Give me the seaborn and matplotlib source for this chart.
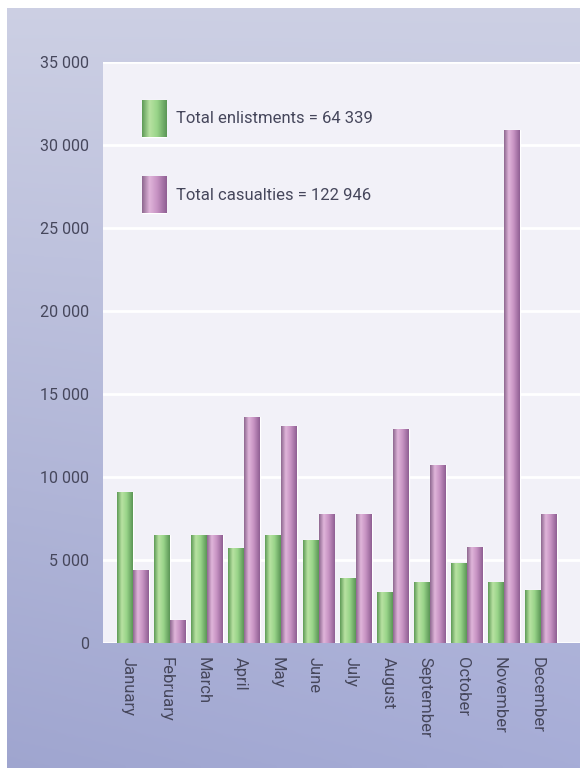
import numpy as np
import pandas as pd
import matplotlib
matplotlib.use("Agg")
import matplotlib.pyplot as plt
from matplotlib.colors import LinearSegmentedColormap, to_rgb
from matplotlib.patches import Rectangle
import seaborn as sns

# Monthly figures
months = ["January", "February", "March", "April", "May", "June",
          "July", "August", "September", "October", "November", "December"]
enlistments = [9100, 6500, 6500, 5700, 6500, 6200, 3900, 3100, 3700, 4800, 3700, 3200]
casualties = [4400, 1400, 6500, 13600, 13100, 7800, 7800, 12900, 10700, 5800, 30900, 7800]
series_labels = ["Total enlistments = 64 339", "Total casualties = 122 946"]
y_ticks = [0, 5000, 10000, 15000, 20000, 25000, 30000, 35000]

df = pd.DataFrame({
    "month": months * 2,
    "value": enlistments + casualties,
    "series": [series_labels[0]] * len(months) + [series_labels[1]] * len(months),
})

sns.set_theme(style="white")
plt.rcParams["font.family"] = ["Roboto", "DejaVu Sans"]
text_col = "#46475c"

W, H = 580, 768
fig = plt.figure(figsize=(W / 100, H / 100), dpi=100)

# Lavender page background with a soft vertical gradient
bg = fig.add_axes([0, 0, 1, 1], zorder=-10)
yy, xx = np.mgrid[0:1:200j, 0:1:200j]
top = np.array(to_rgb("#cdd0e4"))
bot = np.array(to_rgb("#a7add7"))
t = yy[..., None]
img = top * (1 - t) + bot * t
img = img - 0.03 * (1 - xx[..., None]) * t
bg.imshow(np.clip(img, 0, 1), extent=[0, 1, 0, 1], aspect="auto", origin="upper")
bg.add_patch(Rectangle((0, 1 - 8 / H), 1, 8 / H, color="white", lw=0))
bg.add_patch(Rectangle((0, 0), 7 / W, 1, color="white", lw=0))
bg.set_xlim(0, 1)
bg.set_ylim(0, 1)
bg.axis("off")

# Plot area
left_px, right_px, top_px, bottom_px = 103, 585, 62, 643
ax = fig.add_axes([left_px / W, (H - bottom_px) / H,
                   (right_px - left_px) / W, (bottom_px - top_px) / H])
ax.set_facecolor("#f2f1f8")

palette = {series_labels[0]: "#8fcb7e", series_labels[1]: "#c290c0"}
sns.barplot(data=df, x="month", y="value", hue="series", palette=palette,
            width=0.86, ax=ax, saturation=1, zorder=3)

# Cylinder-like shading across each bar
shade = {
    series_labels[0]: LinearSegmentedColormap.from_list(
        "g", [(0, "#5f9b57"), (0.3, "#b8e2a2"), (0.6, "#9ad58a"), (1, "#5b9656")]),
    series_labels[1]: LinearSegmentedColormap.from_list(
        "p", [(0, "#8e6890"), (0.3, "#e0b5da"), (0.6, "#c894c4"), (1, "#8f5f93")]),
}
grad = np.linspace(0, 1, 64)[None, :]
for cont, lab in zip(ax.containers, series_labels):
    for bar in cont:
        x0, y0 = bar.get_x(), bar.get_y()
        w, h = bar.get_width(), bar.get_height()
        im = ax.imshow(grad, cmap=shade[lab], extent=[x0, x0 + w, y0, y0 + h],
                       aspect="auto", zorder=4, interpolation="bilinear")
        im.set_clip_path(bar)

px_per_cat = 37.1
ax.set_xlim(-(133 - left_px) / px_per_cat, (right_px - 133) / px_per_cat)
ax.set_ylim(0, 35000)
ax.set_aspect("auto")

ax.set_yticks(y_ticks)
ax.set_yticklabels([f"{v:,}".replace(",", " ") for v in y_ticks])
ax.yaxis.grid(True, color="white", lw=2, zorder=1)
ax.set_axisbelow(True)
ax.tick_params(axis="y", length=0, pad=10, labelsize=11.5, labelcolor=text_col)
ax.set_xticks(np.arange(len(months)) - 0.12)
ax.set_xticklabels(months, rotation=-90, va="top", ha="center")
ax.tick_params(axis="x", length=0, pad=10, labelsize=12, labelcolor=text_col)
ax.set_xlabel("")
ax.set_ylabel("")
for s in ax.spines.values():
    s.set_visible(False)

leg = ax.legend(loc="upper left",
                bbox_to_anchor=((142 - left_px) / (right_px - left_px),
                                (bottom_px - 100) / (bottom_px - top_px)),
                frameon=False, fontsize=12, handlelength=1.45, handleheight=3.0,
                labelspacing=2.4, handletextpad=0.6, borderpad=0, borderaxespad=0)
for txt in leg.get_texts():
    txt.set_color(text_col)

# Give the legend swatches the same shading as the bars
fig.canvas.draw()
inv = ax.transData.inverted()
for hnd, lab in zip(leg.legend_handles, series_labels):
    bb = hnd.get_window_extent()
    (x0, y0), (x1, y1) = inv.transform([[bb.x0, bb.y0], [bb.x1, bb.y1]])
    ax.imshow(grad, cmap=shade[lab], extent=[x0, x1, y0, y1], aspect="auto",
              zorder=6, interpolation="bilinear")
ax.set_xlim(-(133 - left_px) / px_per_cat, (right_px - 133) / px_per_cat)
ax.set_ylim(0, 35000)

fig.savefig("out.png", dpi=100)
